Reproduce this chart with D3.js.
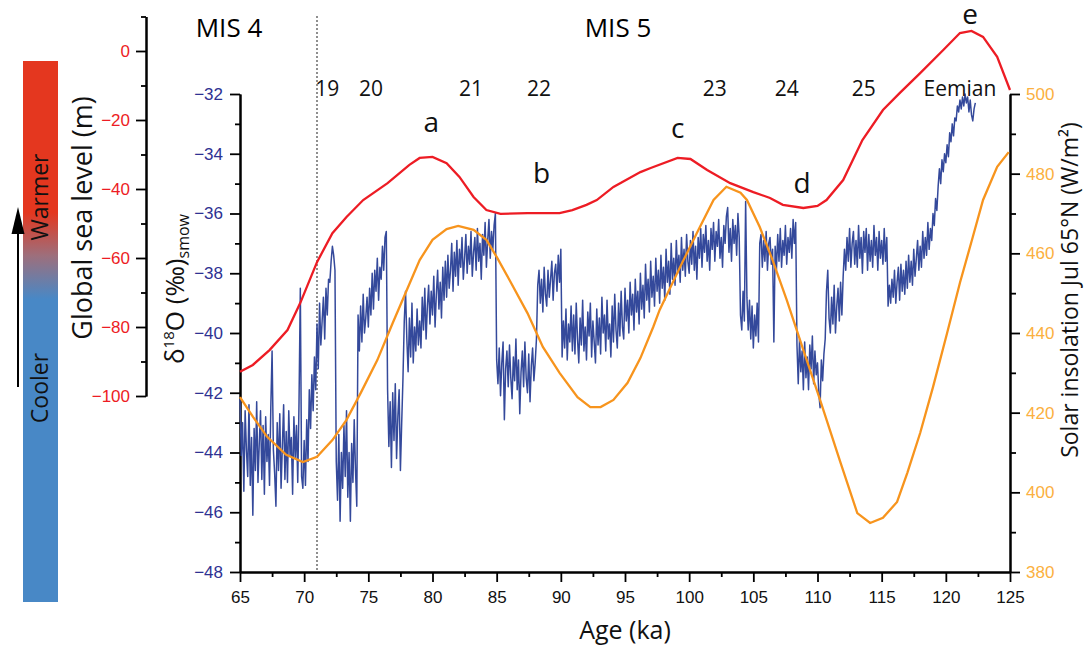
<!DOCTYPE html>
<html>
<head>
<meta charset="utf-8">
<script src="https://cdn.jsdelivr.net/npm/d3@7"></script>
<style>
  body { margin: 0; background: #fff; }
  #wrapper svg { display: block; }
  text { font-family: 'Open Sans', sans-serif; }
</style>
</head>
<body>
<div id="wrapper"></div>
<script>
// sea level (m) vs age (ka)
const seaLevelAge = [65.0, 66.0, 67.3, 68.7, 69.7, 71.0, 72.2, 73.3, 74.6, 76.5, 78.2, 79.0, 80.0, 81.1, 82.1, 83.2, 84.2, 85.3, 87.4, 89.9, 90.9, 92.0, 92.8, 94.1, 96.2, 97.0, 99.1, 100.1, 101.4, 103.2, 105.0, 106.3, 107.3, 108.9, 110.0, 110.7, 112.0, 113.5, 115.1, 116.4, 118.0, 119.8, 121.1, 122.0, 122.9, 124.0, 125.0];
const seaLevel = [-93.0, -91.0, -86.7, -80.9, -73.0, -61.2, -52.8, -48.1, -43.2, -38.3, -33.0, -31.0, -30.7, -32.5, -36.5, -42.3, -46.1, -47.2, -47.0, -47.0, -46.1, -44.6, -43.2, -39.4, -35.1, -33.9, -31.0, -31.3, -34.5, -38.3, -40.9, -42.6, -44.6, -45.5, -44.9, -43.2, -37.4, -25.8, -17.1, -12.2, -6.4, 0.3, 5.2, 5.8, 4.1, -1.7, -11.3];

// July insolation 65N (W/m2) vs age (ka)
const insolationAge = [65.0, 66.0, 67.1, 68.6, 69.9, 71.0, 72.2, 73.3, 74.4, 75.7, 76.9, 78.0, 79.0, 80.0, 81.1, 82.0, 83.2, 84.2, 85.0, 86.0, 87.4, 88.6, 89.9, 91.3, 92.3, 93.1, 94.1, 95.2, 96.2, 97.2, 97.7, 99.3, 100.6, 101.9, 102.9, 104.0, 104.5, 105.5, 106.5, 107.6, 108.9, 110.2, 111.8, 113.1, 114.1, 115.1, 116.2, 117.0, 118.0, 119.0, 120.1, 121.1, 122.1, 122.9, 124.0, 124.9];
const insolation = [423.9, 419.0, 414.0, 409.4, 407.6, 408.9, 413.1, 418.2, 424.9, 433.2, 442.5, 450.8, 458.3, 463.4, 466.1, 466.9, 465.9, 463.4, 459.1, 453.3, 445.0, 436.5, 430.0, 423.9, 421.4, 421.4, 423.2, 427.5, 433.7, 441.5, 445.8, 456.6, 465.1, 473.4, 476.7, 475.2, 473.4, 466.6, 458.3, 448.3, 435.7, 423.2, 407.4, 394.8, 392.3, 393.6, 397.6, 404.9, 414.9, 426.4, 440.0, 452.6, 464.1, 473.4, 481.7, 485.4];

// d18O (permil SMOW), one value every 0.1 ka starting at 65 ka (one row per ka)
const d18OStartAge = 65;
const d18OStep = 0.1;
const d18O = [
  -42.2, -44.1, -43.0, -45.3, -42.6, -43.9, -44.8, -42.4, -45.1, -43.5, // 65
  -46.1, -43.2, -44.6, -42.3, -45.0, -43.7, -42.6, -44.9, -43.1, -45.4, // 66
  -42.8, -44.3, -43.4, -45.1, -42.5, -40.6, -43.9, -44.7, -45.8, -43.0, // 67
  -44.6, -42.7, -45.2, -43.8, -42.4, -44.9, -43.3, -45.0, -42.6, -44.1, // 68
  -43.5, -45.4, -42.8, -44.2, -43.1, -45.0, -42.3, -38.5, -44.8, -45.2, // 69
  -43.6, -45.1, -42.9, -44.3, -41.9, -43.2, -41.4, -42.6, -40.8, -41.9, // 70
  -39.7, -41.2, -39.0, -40.4, -39.6, -38.8, -40.2, -38.5, -39.4, -38.2, // 71
  -38.3, -37.6, -37.1, -37.4, -37.9, -44.3, -45.6, -43.4, -46.3, -44.0, // 72
  -45.2, -43.1, -44.8, -42.6, -45.5, -44.0, -46.3, -43.7, -45.0, -42.9, // 73
  -44.6, -45.8, -39.4, -40.6, -39.1, -40.3, -38.7, -40.0, -39.5, -38.8, // 74
  -39.8, -38.5, -39.4, -38.0, -39.2, -37.9, -38.6, -37.5, -38.9, -37.8, // 75
  -38.2, -37.1, -37.9, -36.8, -36.6, -41.9, -43.8, -42.3, -44.5, -42.0, // 76
  -43.6, -41.7, -44.2, -42.8, -41.9, -44.6, -43.0, -41.5, -39.6, -38.6, // 77
  -40.2, -41.3, -39.5, -40.8, -39.0, -41.0, -39.8, -40.6, -39.2, -40.4, // 78
  -39.6, -40.5, -38.8, -39.9, -38.5, -40.2, -39.1, -38.4, -39.7, -38.6, // 79
  -39.4, -38.1, -39.8, -38.7, -37.9, -39.2, -38.3, -39.5, -37.8, -38.9, // 80
  -37.6, -38.8, -37.4, -38.5, -37.9, -37.0, -38.6, -37.3, -38.1, -36.9, // 81
  -38.4, -37.2, -37.8, -36.8, -38.2, -37.5, -36.7, -38.0, -37.1, -37.7, // 82
  -36.6, -38.1, -37.3, -36.8, -37.9, -36.5, -37.6, -37.0, -38.2, -36.7, // 83
  -37.4, -36.3, -37.8, -36.9, -36.2, -37.5, -36.6, -37.2, -36.4, -36.0, // 84
  -40.9, -41.7, -40.5, -42.1, -41.0, -40.3, -42.9, -41.2, -40.6, -41.8, // 85
  -40.4, -41.5, -42.2, -40.8, -41.6, -40.2, -41.9, -40.9, -42.7, -41.3, // 86
  -40.6, -41.8, -40.3, -41.5, -42.0, -40.7, -42.3, -41.1, -40.5, -41.6, // 87
  -41.0, -40.2, -38.4, -37.9, -39.0, -38.2, -39.3, -37.8, -38.7, -39.1, // 88
  -37.9, -38.8, -38.2, -37.6, -38.9, -38.0, -37.7, -38.6, -37.4, -38.3, // 89
  -37.2, -40.8, -39.6, -40.5, -39.2, -40.9, -39.7, -40.3, -39.1, -40.6, // 90
  -39.4, -40.7, -39.0, -40.2, -41.0, -39.5, -40.4, -38.9, -40.6, -39.8, // 91
  -40.9, -39.3, -40.1, -39.0, -40.8, -39.6, -40.3, -41.0, -39.2, -40.4, // 92
  -39.5, -40.7, -38.8, -40.0, -39.4, -40.6, -38.9, -40.2, -39.7, -40.8, // 93
  -39.1, -40.3, -38.7, -39.9, -40.5, -39.0, -40.1, -38.6, -39.8, -40.2, // 94
  -38.5, -39.6, -38.9, -40.0, -38.3, -39.4, -38.7, -39.9, -38.2, -39.3, // 95
  -38.6, -39.7, -38.0, -39.2, -38.4, -39.5, -37.7, -38.9, -38.2, -39.3, // 96
  -37.6, -38.8, -38.1, -39.1, -37.5, -38.6, -37.9, -39.0, -37.4, -38.5, // 97
  -37.8, -38.9, -37.2, -38.3, -37.6, -38.7, -37.0, -38.2, -37.5, -38.4, // 98
  -36.9, -38.0, -37.4, -38.3, -36.8, -37.9, -37.2, -38.1, -36.7, -37.6, // 99
  -38.0, -36.9, -37.7, -36.6, -37.9, -37.1, -38.2, -36.8, -37.5, -36.5, // 100
  -37.8, -36.7, -37.3, -36.4, -37.6, -36.9, -37.9, -36.5, -37.2, -36.3, // 101
  -37.6, -36.6, -37.1, -36.2, -37.5, -36.8, -37.8, -36.4, -37.0, -36.1, // 102
  -35.8, -37.3, -36.5, -37.6, -36.2, -37.0, -36.4, -37.4, -36.0, -36.8, // 103
  -39.4, -39.9, -38.6, -39.6, -35.6, -38.8, -39.9, -38.9, -40.2, -39.1, // 104
  -40.5, -39.4, -40.1, -39.0, -40.3, -37.0, -36.7, -37.8, -36.9, -37.6, // 105
  -36.6, -37.9, -37.0, -36.8, -37.7, -37.2, -40.3, -37.1, -37.9, -36.7, // 106
  -37.6, -36.5, -37.8, -36.9, -37.4, -36.4, -37.7, -36.8, -37.3, -36.5, // 107
  -37.5, -36.2, -37.0, -36.3, -40.4, -41.7, -40.2, -41.3, -40.6, -41.9, // 108
  -40.3, -41.5, -40.8, -41.9, -40.4, -41.2, -40.1, -41.7, -40.6, -41.4, // 109
  -41.0, -42.0, -42.5, -40.9, -41.6, -40.7, -40.2, -38.6, -37.9, -39.5, // 110
  -40.0, -38.8, -39.7, -38.4, -40.0, -39.1, -38.5, -39.6, -38.3, -39.4, // 111
  -38.1, -37.2, -37.9, -36.8, -37.6, -36.5, -37.8, -37.0, -36.6, -37.7, // 112
  -36.9, -37.8, -36.4, -37.5, -36.8, -38.0, -36.6, -37.3, -36.5, -37.9, // 113
  -36.7, -37.6, -36.9, -37.8, -36.4, -37.4, -36.8, -37.9, -36.6, -37.5, // 114
  -36.9, -37.7, -36.5, -37.6, -36.8, -39.1, -38.4, -39.0, -38.2, -38.8, // 115
  -37.9, -39.0, -38.3, -37.8, -38.9, -37.7, -38.6, -37.9, -38.7, -37.6, // 116
  -38.5, -37.4, -38.3, -37.6, -38.4, -37.2, -38.1, -37.5, -36.9, -37.9, // 117
  -37.1, -37.8, -36.6, -37.5, -36.8, -37.4, -36.3, -37.2, -36.5, -36.9, // 118
  -36.0, -36.4, -35.5, -35.9, -35.1, -34.5, -35.0, -34.2, -34.6, -34.0, // 119
  -34.3, -33.7, -34.1, -33.3, -33.6, -33.0, -33.4, -32.8, -32.9, -32.4, // 120
  -32.6, -32.2, -32.5, -32.1, -32.4, -32.0, -32.3, -32.1, -32.6, -32.2, // 121
  -32.7, -32.9, -32.5, -32.3, // 122
];

const ageTicks = [65, 70, 75, 80, 85, 90, 95, 100, 105, 110, 115, 120, 125];
const d18OTicks = [-48, -46, -44, -42, -40, -38, -36, -34, -32];
const seaLevelTicks = [-100, -80, -60, -40, -20, 0];
const insolationTicks = [380, 400, 420, 440, 460, 480, 500];

const interstadialLabels = ['19', '20', '21', '22', '23', '24', '25', 'Eemian'];
const interstadialAges = [71.8, 75.2, 83.0, 88.3, 102.0, 107.6, 113.6, 121.1];
const peakLabels = ['a', 'b', 'c', 'd', 'e'];
const peakAges = [79.9, 88.5, 99.1, 108.8, 121.9];
const peakLevels = [-23.4, -38.3, -25.1, -41.1, 7.8]; // text baseline, in sea level units

const misBoundary = 71;

let dimensions = {
  width: 1088,
  height: 646,
  margin: { top: 94, right: 78, bottom: 74, left: 240 },
};
dimensions.boundedWidth = dimensions.width - dimensions.margin.left - dimensions.margin.right;
dimensions.boundedHeight = dimensions.height - dimensions.margin.top - dimensions.margin.bottom;

const colors = {
  red: '#ed1c24',
  blueLine: '#34499b',
  blueText: '#2e3192',
  orangeLine: '#f7941d',
  orangeText: '#fbb040',
};

const wrapper = d3.select('#wrapper')
  .append('svg')
  .attr('width', dimensions.width)
  .attr('height', dimensions.height);

const bounds = wrapper.append('g')
  .attr('transform', `translate(${dimensions.margin.left},${dimensions.margin.top})`);

const xScale = d3.scaleLinear()
  .domain([65, 125])
  .range([0, dimensions.boundedWidth]);

const yD18O = d3.scaleLinear()
  .domain([-48, -32])
  .range([dimensions.boundedHeight, 0]);

const yInsolation = d3.scaleLinear()
  .domain([380, 500])
  .range([dimensions.boundedHeight, 0]);

const ySeaLevel = d3.scaleLinear()
  .domain([-100, 10])
  .range([302, -77.5]);

// warmer / cooler bar
const defs = wrapper.append('defs');
const grad = defs.append('linearGradient')
  .attr('id', 'temp-grad')
  .attr('x1', 0).attr('x2', 0).attr('y1', 0).attr('y2', 1);
grad.append('stop').attr('offset', 0.28).attr('stop-color', '#e4371f');
grad.append('stop').attr('offset', 0.36).attr('stop-color', '#9d6f7c');
grad.append('stop').attr('offset', 0.44).attr('stop-color', '#4888c6');

wrapper.append('rect')
  .attr('x', 23).attr('y', 61)
  .attr('width', 35).attr('height', 541)
  .attr('fill', 'url(#temp-grad)');

wrapper.append('line')
  .attr('x1', 18).attr('x2', 18)
  .attr('y1', 228).attr('y2', 387)
  .attr('stroke', '#000').attr('stroke-width', 2);
wrapper.append('path')
  .attr('d', 'M18,207 L24.5,234 L11.5,234 Z')
  .attr('fill', '#000');

const sideText = (x, y, txt, size) => wrapper.append('text')
  .attr('transform', `translate(${x},${y}) rotate(-90)`)
  .attr('text-anchor', 'middle')
  .style('font-size', `${size}px`)
  .style('fill', '#111')
  .text(txt);

sideText(48, 197, 'Warmer', 23);
sideText(48, 388, 'Cooler', 23);
sideText(92, 218, 'Global sea level (m)', 27);
sideText(1078, 290, 'Solar insolation Jul 65°N (W/m²)', 23);

const d18OLabel = wrapper.append('text')
  .attr('transform', 'translate(184,289) rotate(-90)')
  .attr('text-anchor', 'middle')
  .style('font-size', '26px')
  .style('fill', '#111');
d18OLabel.append('tspan').text('δ');
d18OLabel.append('tspan').attr('dy', -10).style('font-size', '15px').text('18');
d18OLabel.append('tspan').attr('dy', 10).text('O (‰)');
d18OLabel.append('tspan').attr('dy', 5).style('font-size', '16px').text('smow');

// axes
const styleAxis = (g, color, size) => {
  g.attr('font-family', null).attr('font-size', null);
  g.select('.domain').attr('stroke', '#000').attr('stroke-width', 2);
  g.selectAll('.tick line').attr('stroke', '#000').attr('stroke-width', 1.8);
  g.selectAll('.tick text')
    .style('font-family', "'Liberation Sans', Arial, sans-serif")
    .style('font-size', `${size}px`)
    .style('fill', color);
};

const minorOf = (major, step) => d3.range(major[0], major[major.length - 1] + 1e-9, step)
  .filter((v) => !major.includes(v));

const xAxis = bounds.append('g')
  .attr('transform', `translate(0,${dimensions.boundedHeight})`)
  .call(d3.axisBottom(xScale).tickValues(ageTicks).tickSize(10).tickPadding(9).tickSizeOuter(0).tickFormat(d3.format('d')));
styleAxis(xAxis, '#111', 17);
const xMinor = bounds.append('g')
  .attr('transform', `translate(0,${dimensions.boundedHeight})`)
  .call(d3.axisBottom(xScale).tickValues(minorOf(ageTicks, 2.5)).tickSize(5).tickFormat('').tickSizeOuter(0));
styleAxis(xMinor, '#111', 17);

const blueAxis = bounds.append('g')
  .call(d3.axisLeft(yD18O).tickValues(d18OTicks).tickSize(10).tickPadding(7).tickSizeOuter(0));
styleAxis(blueAxis, colors.blueText, 17);
const blueMinor = bounds.append('g')
  .call(d3.axisLeft(yD18O).tickValues(minorOf(d18OTicks, 1)).tickSize(5).tickFormat('').tickSizeOuter(0));
styleAxis(blueMinor, colors.blueText, 17);

const redAxis = bounds.append('g')
  .attr('transform', 'translate(-94,0)')
  .call(d3.axisLeft(ySeaLevel).tickValues(seaLevelTicks).tickSize(10).tickPadding(6).tickSizeOuter(0));
styleAxis(redAxis, colors.red, 17);
const redMinor = bounds.append('g')
  .attr('transform', 'translate(-94,0)')
  .call(d3.axisLeft(ySeaLevel).tickValues([-90, -70, -50, -30, -10, 10]).tickSize(5).tickFormat('').tickSizeOuter(0));
styleAxis(redMinor, colors.red, 17);

const orangeAxis = bounds.append('g')
  .attr('transform', `translate(${dimensions.boundedWidth},0)`)
  .call(d3.axisRight(yInsolation).tickValues(insolationTicks).tickSize(10).tickPadding(6).tickSizeOuter(0));
styleAxis(orangeAxis, colors.orangeText, 17);
const orangeMinor = bounds.append('g')
  .attr('transform', `translate(${dimensions.boundedWidth},0)`)
  .call(d3.axisRight(yInsolation).tickValues(minorOf(insolationTicks, 10)).tickSize(6).tickFormat('').tickSizeOuter(0));
styleAxis(orangeMinor, colors.orangeText, 17);

wrapper.append('text')
  .attr('x', dimensions.margin.left + dimensions.boundedWidth / 2)
  .attr('y', 639)
  .attr('text-anchor', 'middle')
  .style('font-size', '25px')
  .style('fill', '#111')
  .text('Age (ka)');

// MIS 4 / MIS 5 boundary
bounds.append('line')
  .attr('x1', xScale(misBoundary)).attr('x2', xScale(misBoundary))
  .attr('y1', -78).attr('y2', dimensions.boundedHeight)
  .attr('stroke', '#333')
  .attr('stroke-width', 1.1)
  .attr('stroke-dasharray', '2,2');

bounds.append('text')
  .attr('x', -11).attr('y', -57)
  .attr('text-anchor', 'middle')
  .style('font-size', '26px')
  .text('MIS 4');
bounds.append('text')
  .attr('x', 378).attr('y', -57)
  .attr('text-anchor', 'middle')
  .style('font-size', '26px')
  .text('MIS 5');

// series
const d18OPoints = d18O.map((v, i) => ({ age: d18OStartAge + i * d18OStep, value: v }));

bounds.append('path')
  .datum(d18OPoints)
  .attr('fill', 'none')
  .attr('stroke', colors.blueLine)
  .attr('stroke-width', 1.5)
  .attr('stroke-linejoin', 'round')
  .attr('d', d3.line().x((d) => xScale(d.age)).y((d) => yD18O(d.value)));

bounds.append('path')
  .datum(insolationAge.map((a, i) => [a, insolation[i]]))
  .attr('fill', 'none')
  .attr('stroke', colors.orangeLine)
  .attr('stroke-width', 2.3)
  .attr('d', d3.line().x((d) => xScale(d[0])).y((d) => yInsolation(d[1])));

bounds.append('path')
  .datum(seaLevelAge.map((a, i) => [a, seaLevel[i]]))
  .attr('fill', 'none')
  .attr('stroke', colors.red)
  .attr('stroke-width', 2.3)
  .attr('d', d3.line().x((d) => xScale(d[0])).y((d) => ySeaLevel(d[1])));

// labels
bounds.selectAll('.interstadial')
  .data(interstadialLabels)
  .join('text')
  .attr('class', 'interstadial')
  .attr('x', (d, i) => xScale(interstadialAges[i]))
  .attr('y', 1.5)
  .attr('text-anchor', 'middle')
  .style('font-size', '21px')
  .style('fill', '#111')
  .text((d) => d);

bounds.selectAll('.peak')
  .data(peakLabels)
  .join('text')
  .attr('class', 'peak')
  .attr('x', (d, i) => xScale(peakAges[i]))
  .attr('y', (d, i) => ySeaLevel(peakLevels[i]))
  .attr('text-anchor', 'middle')
  .style('font-size', '28px')
  .style('fill', '#111')
  .text((d) => d);
</script>
</body>
</html>
